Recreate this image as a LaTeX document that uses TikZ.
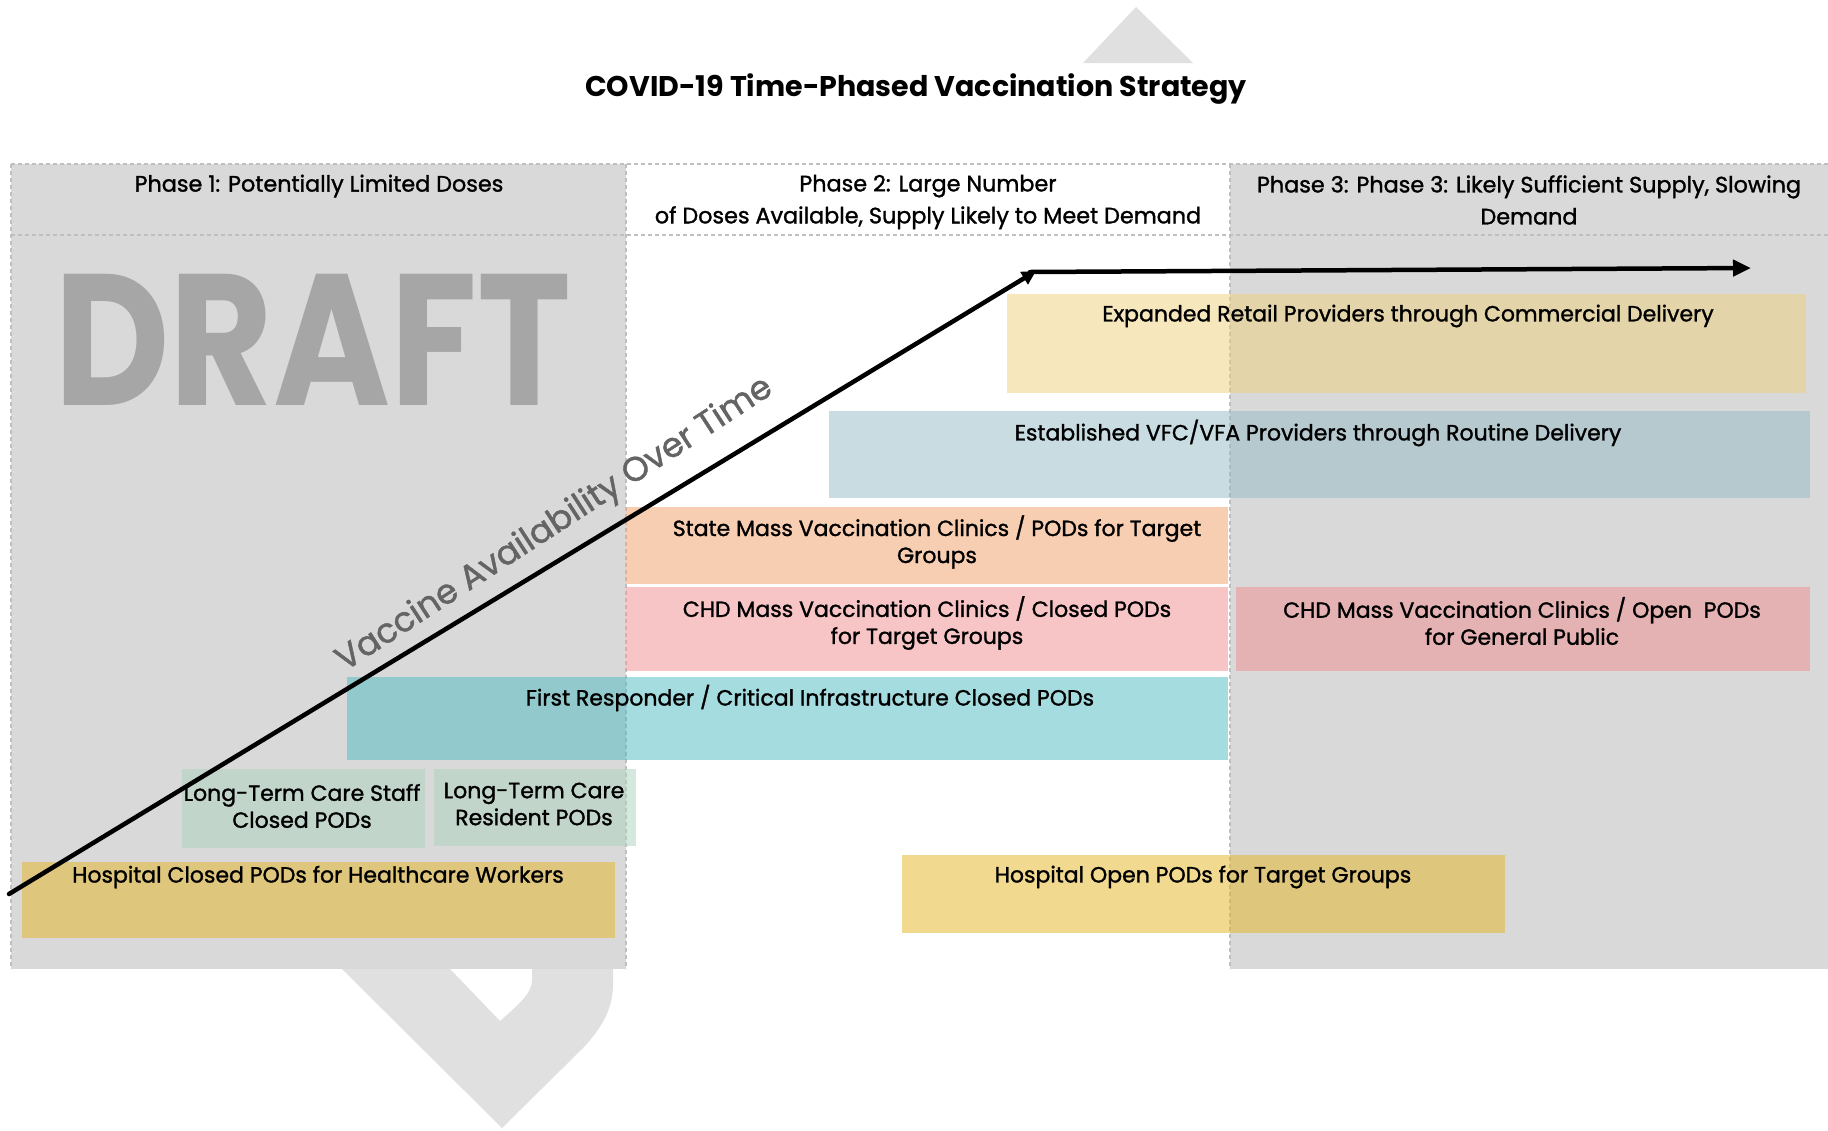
\documentclass[tikz,border=0pt]{standalone}
\usepackage{fontspec}
\setmainfont{Poppins}
\newfontfamily\lblfont{Poppins}[FakeBold=1.3]
\usetikzlibrary{arrows.meta}
\definecolor{panelgray}{HTML}{D9D9D9}
\definecolor{shapegray}{HTML}{E0E0E0}
\definecolor{dashgray}{HTML}{BFBFBF}
\definecolor{draftgray}{HTML}{A6A6A6}
\definecolor{vgray}{HTML}{646464}
\definecolor{cretail}{RGB}{239,209,123}
\definecolor{cvfc}{RGB}{149,187,199}
\definecolor{cstate}{RGB}{241,159,103}
\definecolor{cchd}{RGB}{240,140,140}
\definecolor{cfirst}{RGB}{77,187,193}
\definecolor{cltc}{RGB}{173,211,191}
\definecolor{chosp}{RGB}{230,180,35}
\tikzset{
  box/.style={draw=none, fill opacity=0.5, inner sep=0pt, anchor=north west},
  lbl/.style={font=\lblfont\fontsize{22}{27}\selectfont, align=center, inner sep=0pt, text=black},
  phlbl/.style={font=\lblfont\fontsize{22.3}{32}\selectfont, align=center, inner sep=0pt},
  phdash/.style={draw=dashgray, line width=1.3pt, dash pattern=on 4pt off 3pt},
  arrowline/.style={line width=4.5pt, line cap=round}
}
\begin{document}
\begin{tikzpicture}[x=1pt,y=-1pt]
\useasboundingbox[fill=white] (0,0) rectangle (1828,1130);
% background decorative shapes
\fill[shapegray] (1136,7) -- (1193,63) -- (1083,63) -- cycle;
\fill[shapegray] (342,960) -- (342,969) -- (502,1128) -- (583,1048)
  .. controls (602,1028) and (613,1008) .. (613,985) -- (613,960) -- (532,960) -- (532,980)
  .. controls (532,992) and (522,1002) .. (500,1021) -- (450,969) -- (450,960) -- cycle;
% phase panels
\fill[panelgray] (11,164) rectangle (626,969);
\fill[panelgray] (1230,164) rectangle (1828,969);
\draw[phdash] (11,164) -- (1828,164);
\draw[phdash] (11,235) -- (1828,235);
\draw[phdash] (11,164) -- (11,969);
\draw[phdash] (626,164) -- (626,969);
\draw[phdash] (1230,164) -- (1230,969);
% title
\node[font=\fontsize{28.5}{32}\selectfont\bfseries] (title) at (916,89) {COVID-19 Time-Phased Vaccination Strategy};
% phase headers
\node[phlbl] (ph1) at (319,186) {Phase 1: Potentially Limited Doses};
\node[phlbl] (ph2) at (928,202) {Phase 2: Large Number\\of Doses Available, Supply Likely to Meet Demand};
\node[phlbl] (ph3) at (1529,200) {Phase 3: Phase 3: Likely Sufficient Supply, Slowing\\Demand};
% DRAFT watermark
\node[font=\fontsize{187}{187}\selectfont\bfseries, text=draftgray, inner sep=0pt] (draft) at (313,340) {\scalebox{0.85}[1]{DRAFT}};
% boxes
\node[box, fill=cretail, minimum width=799pt, minimum height=99pt] (er) at (1007,294) {};
\node[box, fill=cvfc, minimum width=981pt, minimum height=87pt] (vfc) at (829,411) {};
\node[box, fill=cstate, minimum width=602pt, minimum height=77pt] (sm) at (626,507) {};
\node[box, fill=cchd, minimum width=602pt, minimum height=84pt] (chdc) at (626,587) {};
\node[box, fill=cchd, minimum width=574pt, minimum height=84pt] (chdo) at (1236,587) {};
\node[box, fill=cfirst, minimum width=881pt, minimum height=83pt] (fr) at (347,677) {};
\node[box, fill=cltc, minimum width=243pt, minimum height=79pt] (ltcs) at (182,769) {};
\node[box, fill=cltc, minimum width=202pt, minimum height=77pt] (ltcr) at (434,769) {};
\node[box, fill=chosp, minimum width=593pt, minimum height=76pt] (hc) at (22,862) {};
\node[box, fill=chosp, minimum width=603pt, minimum height=78pt] (ho) at (902,855) {};
% labels
\node[lbl] (erl) at (1408,316) {Expanded Retail Providers through Commercial Delivery};
\node[lbl] (vfcl) at (1318,433) {Established VFC/VFA Providers through Routine Delivery};
\node[lbl] (sml) at (937,542) {State Mass Vaccination Clinics / PODs for Target\\Groups};
\node[lbl] (chdcl) at (927,623) {CHD Mass Vaccination Clinics / Closed PODs\\for Target Groups};
\node[lbl] (chdol) at (1522,621) {CHD Mass Vaccination Clinics / Open~~PODs\\for General Public};
\node[lbl] (frl) at (810,698) {First Responder / Critical Infrastructure Closed PODs};
\node[lbl] (ltcsl) at (302,806) {Long-Term Care Staff\\Closed PODs};
\node[lbl] (ltcrl) at (534,804) {Long-Term Care\\Resident PODs};
\node[lbl] (hcl) at (318,877) {Hospital Closed PODs for Healthcare Workers};
\node[lbl] (hol) at (1203,877) {Hospital Open PODs for Target Groups};
% availability arrows
\coordinate (a0) at (9,894);
\coordinate (a1) at (1036,271);
\coordinate (a1b) at (1030,272);
\coordinate (a2) at (1751,268);
\draw[arrowline, -{Triangle[length=14pt,width=14pt]}] (a0) -- (a1);
\draw[arrowline, -{Triangle[length=18pt,width=16pt]}] (a1b) -- (a2);
\node[rotate=33, text=vgray, font=\lblfont\fontsize{34}{34}\selectfont, inner sep=0pt] (vt) at (555,525) {Vaccine Availability Over Time};
\end{tikzpicture}
\end{document}
